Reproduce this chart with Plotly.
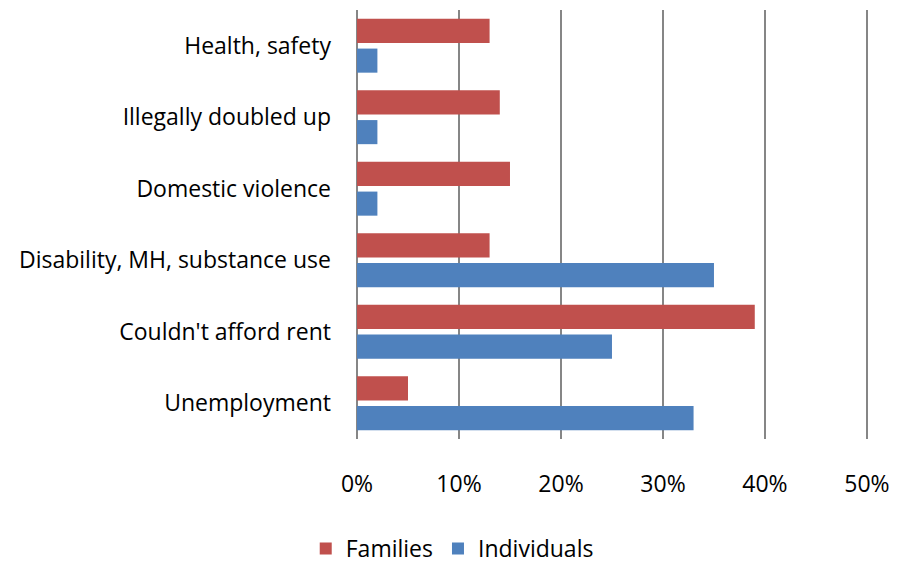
import plotly.graph_objects as go

categories = ["Unemployment", "Couldn't afford rent", "Disability, MH, substance use",
              "Domestic violence", "Illegally doubled up", "Health, safety"]
families = [5, 39, 13, 15, 14, 13]
individuals = [33, 25, 35, 2, 2, 2]
tick_vals = [0, 10, 20, 30, 40, 50]
tick_text = ["0%", "10%", "20%", "30%", "40%", "50%"]

fig = go.Figure()
fig.add_trace(go.Bar(y=categories, x=individuals, name="Individuals", orientation="h",
                     marker=dict(color="#4F81BD", line=dict(width=0))))
fig.add_trace(go.Bar(y=categories, x=families, name="Families", orientation="h",
                     marker=dict(color="#C0504D", line=dict(width=0))))

font_family = "Open Sans"
fs = 23
fig.update_layout(
    width=889, height=557,
    margin=dict(l=349, r=28, t=2, b=126, autoexpand=False),
    paper_bgcolor="white", plot_bgcolor="white",
    barmode="group", bargap=0.168, bargroupgap=0.19,
    font=dict(family=font_family, size=fs, color="#000000"),
    showlegend=True,
    legend=dict(orientation="h", traceorder="reversed", x=0.186, xanchor="center",
                y=-0.205, yanchor="top", yref="paper", font=dict(size=fs)),
    xaxis=dict(range=[0, 50.2], tickvals=tick_vals, ticktext=tick_text,
               showgrid=True, gridcolor="#868686", gridwidth=2,
               zeroline=True, zerolinecolor="#868686", zerolinewidth=2,
               showline=False, ticks="", ticklabelstandoff=29,
               tickfont=dict(size=fs)),
    yaxis=dict(showgrid=False, ticks="", showline=False,
               ticklabelstandoff=25, tickfont=dict(size=fs)),
)
fig.write_html("out.html")
